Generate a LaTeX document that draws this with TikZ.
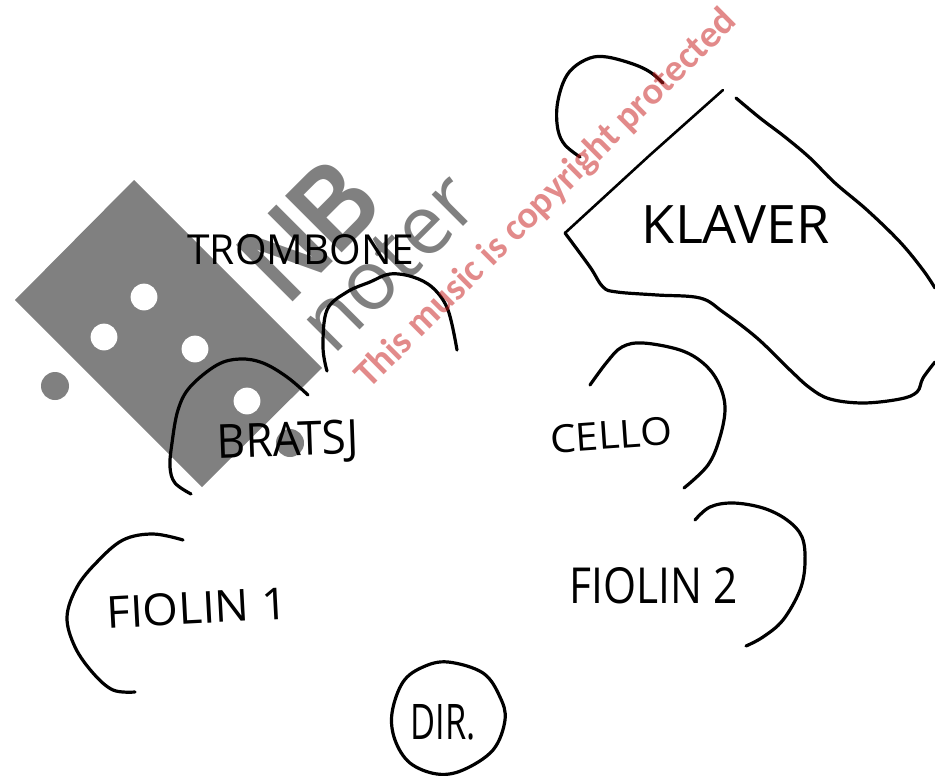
\documentclass[tikz,border=0pt]{standalone}
\usepackage{fontspec}
\setmainfont{Open Sans}
\newfontfamily\wmfont{Carlito}
\newfontfamily\nbfont{Liberation Sans}
\definecolor{logogrey}{RGB}{128,128,128}
\definecolor{wmred}{RGB}{200,30,30}
\tikzset{
  ink/.style={line width=3.2pt,black,line cap=round,line join=round},
  thinink/.style={line width=2.6pt,black,line cap=round,line join=round},
  hand/.style={inner sep=0pt,black},
  logoshape/.style={fill=logogrey,draw=none},
  hole/.style={fill=white,draw=none},
  logotext/.style={inner sep=0pt,text=logogrey,rotate=45},
  watermark/.style={inner sep=0pt,text=wmred,text opacity=.52,rotate=44.8,anchor=base west}
}
\begin{document}
\begin{tikzpicture}[x=1pt,y=-1pt]
\useasboundingbox (0,0) rectangle (935,776);
% logo
\fill[logoshape] (134,180) -- (322,368) -- (202,487) -- (15,300) -- cycle;
\fill[hole] (144,297) circle (13.4);
\fill[hole] (104,337) circle (13.4);
\fill[hole] (195,349) circle (13.4);
\fill[hole] (247,401) circle (13.4);
\fill[logoshape] (55,386) circle (14);
\fill[logoshape] (290,443) circle (14);
\node[logotext,anchor=base west] (nb) at (288,307) {\resizebox{140pt}{80pt}{\nbfont\bfseries NB}};
\node[logotext,anchor=base west] (noter) at (333,357) {\fontsize{83pt}{83pt}\selectfont noter};
% hand-drawn arcs
\draw[ink] plot[smooth,tension=.6] coordinates {(580,157)(565,145)(558,130)(557,107)(563,83)(573,68)(590,58)(607,57)(633,64)(650,72)(663,83)};
\draw[thinink] (723,90) -- (650,155) -- (565,233);
\draw[ink] plot[smooth,tension=.6] coordinates {(565,233)(590,267)(603,287)(617,292)(657,295)(700,298)(723,312)(757,338)(790,370)(810,388)(830,399)(863,403)(900,399)(917,392)(923,378)(935,362)};
\draw[ink] plot[smooth,tension=.6] coordinates {(736,98)(760,118)(785,137)(810,158)(835,183)(867,210)(900,242)(923,270)(935,288)};
\draw[ink] plot[smooth,tension=.6] coordinates {(590,385)(607,362)(622,347)(643,343)(680,350)(703,363)(718,382)(725,407)(720,437)(708,465)(684,488)};
\draw[ink] plot[smooth,tension=.6] coordinates {(695,520)(710,507)(733,503)(763,508)(787,520)(802,537)(805,563)(800,590)(783,620)(763,637)(746,646)};
\draw[ink] plot[smooth,tension=.6] coordinates {(183,540)(153,534)(123,540)(97,562)(77,587)(67,617)(75,647)(93,673)(113,690)(135,692)};
\draw[ink] plot[smooth cycle,tension=.6] coordinates {(448,662)(483,673)(500,697)(505,720)(493,750)(463,770)(437,774)(410,763)(395,740)(392,713)(403,682)(423,667)};
\draw[ink] plot[smooth,tension=.6] coordinates {(327,371)(323,347)(327,310)(347,292)(370,282)(390,274)(413,277)(433,288)(448,310)(457,350)};
\draw[ink] plot[smooth,tension=.6] coordinates {(308,395)(287,377)(263,363)(240,359)(217,365)(190,387)(178,410)(172,443)(170,467)(175,483)(191,494)};
% labels
\node[hand] (trombone) at (301,250) {\resizebox{227pt}{30pt}{TROMBONE}};
\node[hand] (klaver) at (736,224) {\resizebox{188pt}{38pt}{KLAVER}};
\node[hand,rotate=2] (bratsj) at (288,443) {\resizebox{141pt}{34pt}{BRATSJ}};
\node[hand,rotate=4] (cello) at (611,435) {\resizebox{122pt}{28pt}{CELLO}};
\node[hand,rotate=3] (fiolin1) at (197,608) {\resizebox{181pt}{32pt}{FIOLIN 1}};
\node[hand] (fiolin2) at (654,586) {\resizebox{168pt}{36pt}{FIOLIN 2}};
\node[hand] (dir) at (443,722) {\resizebox{65pt}{35pt}{DIR.}};
% watermark
\node[watermark] (wm) at (369,390) {\resizebox{520pt}{!}{\wmfont\bfseries This music is copyright protected}};
\end{tikzpicture}
\end{document}
